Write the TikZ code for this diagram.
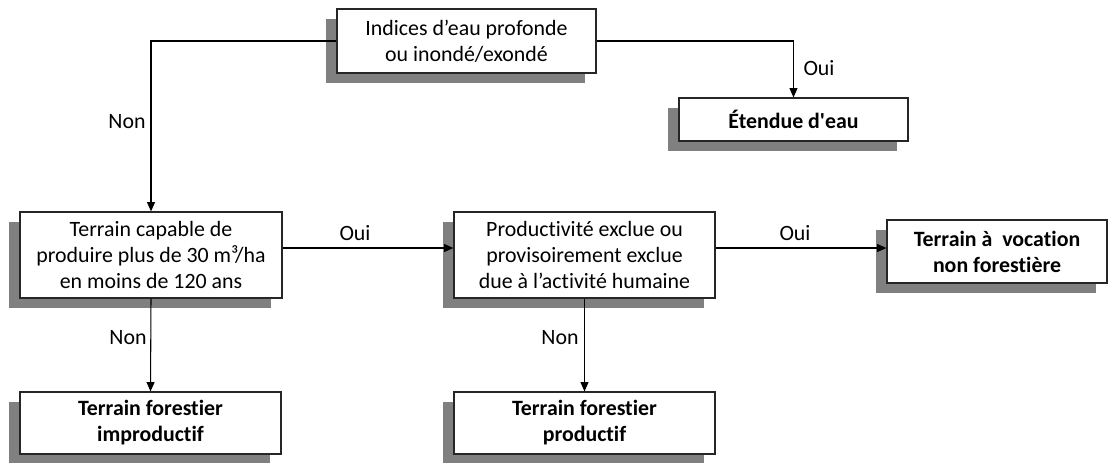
\documentclass[tikz,border=0pt]{standalone}
\usepackage{fontspec}
\setmainfont{Carlito}[Ligatures={TeX,NoCommon}]
\newfontfamily\rawfont{Carlito}[Ligatures=NoCommon]
\usetikzlibrary{shadows,arrows.meta}
\begin{document}
\begin{tikzpicture}[x=0.75pt,y=-0.75pt,
  box/.style={draw=black!85, line width=0.9pt, fill=white, align=center, inner sep=0pt,
    general shadow={fill=black!50, shadow xshift=-8.25pt, shadow yshift=-7.5pt},
    font=\fontsize{16.4}{19.5}\selectfont},
  bbox/.style={box, font=\fontsize{16.4}{19.5}\selectfont\bfseries},
  arr/.style={draw=black, line width=0.8pt, -{Triangle[length=7pt,width=6pt]}},
  lbl/.style={font=\fontsize{16.4}{19.5}\selectfont, inner sep=0pt}]
\useasboundingbox (0,0) rectangle (1109,462);
\node[box, minimum width=259*0.75pt, minimum height=64*0.75pt] (top) at (466.5,41) {Indices d’eau profonde\\ou inondé/exondé};
\node[bbox, minimum width=229*0.75pt, minimum height=43*0.75pt] (eau) at (793.5,119.5) {{\rawfont\bfseries Étendue d'eau}};
\node[box, minimum width=262*0.75pt, minimum height=86*0.75pt] (cap) at (151,255) {Terrain capable de\\produire plus de 30 m³/ha\\en moins de 120 ans};
\node[box, minimum width=261*0.75pt, minimum height=86*0.75pt] (prod) at (584.5,255) {Productivité exclue ou\\provisoirement exclue\\due à l’activité humaine};
\node[bbox, minimum width=220*0.75pt, minimum height=63*0.75pt] (voc) at (997,251.5) {Terrain à\ \ vocation\\non forestière};
\node[bbox, minimum width=261*0.75pt, minimum height=62*0.75pt] (imp) at (150.5,423) {Terrain forestier\\improductif};
\node[bbox, minimum width=261*0.75pt, minimum height=62*0.75pt] (pro) at (584.5,423) {Terrain forestier\\productif};
\draw[arr] (top.west) -| (cap.north);
\draw[arr] (top.east) -| (eau.north);
\draw[arr] (cap.east |- 0,248) -- (prod.west |- 0,248);
\draw[arr] (prod.east |- 0,248) -- (voc.west |- 0,248);
\draw[arr] (cap.south) -- (imp.north);
\draw[arr] (prod.south) -- (pro.north);
\node[lbl] (n1) at (127,122) {Non};
\node[lbl] (o1) at (819,68) {Oui};
\node[lbl] (o2) at (355,233) {Oui};
\node[lbl] (o3) at (795,233) {Oui};
\node[lbl] (n2) at (128,338) {Non};
\node[lbl] (n3) at (560,338) {Non};
\end{tikzpicture}
\end{document}
